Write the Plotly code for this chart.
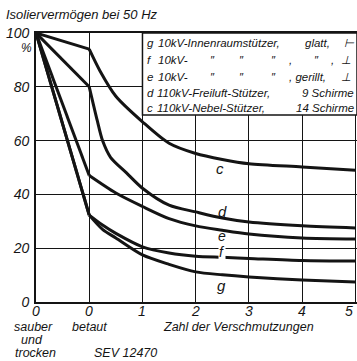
import plotly.graph_objects as go

# ---------------- data ----------------
x_tick_vals = [0, 1, 2, 3, 4, 5, 6]
x_tick_text = ["0", "0", "1", "2", "3", "4", "5"]
y_tick_vals = [0, 20, 40, 60, 80, 100]
y_tick_text = ["0", "20", "40", "60", "80", "100"]

c_x = [0, 1, 1.2, 1.5, 2, 2.5, 3, 3.5, 4, 5, 6]
c_y = [100, 94, 86, 76.5, 67, 59, 55.2, 53, 51.4, 50.2, 49]

d_x = [0, 1, 1.15, 1.25, 1.4, 1.7, 2, 2.5, 3, 3.5, 4, 5, 6]
d_y = [100, 80, 67.5, 60, 53.8, 48, 42.3, 36, 33.5, 31.2, 29.7, 28.3, 27.5]

e_x = [0, 1, 1.5, 2, 2.5, 3, 3.5, 4, 5, 6]
e_y = [100, 47, 40.5, 35.5, 31, 28.3, 26.7, 25.3, 23.8, 23.4]

f_x = [0, 1, 1.25, 1.5, 2, 2.5, 3, 3.5, 4, 5, 6]
f_y = [100, 32.3, 28.6, 25.5, 20.5, 18.2, 17, 16.6, 16.2, 15.4, 15.2]

g_x = [0, 1, 1.25, 1.5, 2, 2.5, 3, 3.5, 4, 5, 6]
g_y = [100, 32.3, 27, 23.8, 17.5, 14, 11.2, 10.1, 9.3, 8.2, 7.4]

curves = {"c": (c_x, c_y), "d": (d_x, d_y), "e": (e_x, e_y),
          "f": (f_x, f_y), "g": (g_x, g_y)}

# ---------------- layout helpers ----------------
W, H = 357, 361
L, R, T, B = 36, 0, 33, 59
XMAX = 6.03
FONT = "Liberation Sans, Arial, sans-serif"
INK = "#141414"


def pxx(xp):
    return (xp - L) / (W - L - R)


def pxy(yp):
    return (H - B - yp) / (H - T - B)


fig = go.Figure()

for name, (xs, ys) in curves.items():
    # straight segment: "sauber und trocken" -> "betaut"
    fig.add_trace(go.Scatter(x=xs[:2], y=ys[:2], mode="lines",
                             line=dict(color=INK, width=3), hoverinfo="skip",
                             showlegend=False, cliponaxis=False))
    # smooth decay after wetting
    fig.add_trace(go.Scatter(x=xs[1:], y=ys[1:], mode="lines",
                             line=dict(color=INK, width=3, shape="spline",
                                       smoothing=0.8),
                             hoverinfo="skip", showlegend=False))

ann = []


def txt(text, xp, yp, size=13, xanchor="left", bg=None):
    d = dict(text=text, x=pxx(xp), y=pxy(yp), xref="paper", yref="paper",
             xanchor=xanchor, yanchor="middle", showarrow=False,
             font=dict(family=FONT, size=size, color=INK, style="italic"))
    if bg:
        d["bgcolor"] = bg
        d["borderpad"] = 0
    ann.append(d)


# x tick labels (placed close under the axis like in the original)
for tv, tt in zip(x_tick_vals, x_tick_text):
    ann.append(dict(text=tt, x=tv, y=pxy(311), xref="x", yref="paper",
                    xanchor="right" if tv == x_tick_vals[-1] else "center",
                    yanchor="middle", showarrow=False,
                    font=dict(family=FONT, size=14, color=INK,
                              style="italic")))

# title and unit
txt("Isoliervermögen bei 50 Hz", 4, 14, size=13)
txt("%", 26, 48, size=12, xanchor="center")

# curve labels
txt("c", 220, 168, size=15, xanchor="center")
txt("d", 223, 211, size=15, xanchor="center")
txt("e", 222, 236, size=14, xanchor="center")
txt("f", 222, 252, size=14, xanchor="center", bg="white")
txt("g", 222, 285, size=15, xanchor="center")

# legend box text
LS = 11.5
DIT = "″"
rows_y = [43, 60, 77, 93, 108]
txt("g", 145, rows_y[0], LS)
txt("10kV-Innenraumstützer,", 156, rows_y[0], LS)
txt("glatt,", 303, rows_y[0], LS)
txt("⊢", 349, rows_y[0], LS, xanchor="center")

txt("f", 145, rows_y[1], LS)
txt("10kV-", 156, rows_y[1], LS)
for xp in (213, 241, 273, 316):
    txt(DIT, xp, rows_y[1], LS, xanchor="center")
txt(",", 290, rows_y[1], LS, xanchor="center")
txt(",", 332, rows_y[1], LS, xanchor="center")
txt("⊥", 346, rows_y[1], LS, xanchor="center")

txt("e", 145, rows_y[2], LS)
txt("10kV-", 156, rows_y[2], LS)
for xp in (213, 241, 273):
    txt(DIT, xp, rows_y[2], LS, xanchor="center")
txt(", gerillt,", 287, rows_y[2], LS)
txt("⊥", 346, rows_y[2], LS, xanchor="center")

txt("d", 145, rows_y[3], LS)
txt("110kV-Freiluft-Stützer,", 155, rows_y[3], LS)
txt("9 Schirme", 356, rows_y[3], LS, xanchor="right")

txt("c", 145, rows_y[4], LS)
txt("110kV-Nebel-Stützer,", 155, rows_y[4], LS)
txt("14 Schirme", 356, rows_y[4], LS, xanchor="right")

# bottom texts
txt("sauber", 33, 327, 12.5, xanchor="center")
txt("und", 32, 340, 12.5, xanchor="center")
txt("trocken", 35, 353, 12.5, xanchor="center")
txt("betaut", 89, 327, 12.5, xanchor="center")
txt("Zahl der Verschmutzungen", 238, 327, 12.5, xanchor="center")
txt("SEV 12470", 126, 353, 12.5, xanchor="center")

fig.update_layout(
    width=W, height=H,
    margin=dict(l=L, r=R, t=T, b=B, pad=0, autoexpand=False),
    paper_bgcolor="white", plot_bgcolor="white",
    showlegend=False,
    annotations=ann,
    shapes=[dict(type="rect", xref="x", yref="paper", x0=2, x1=XMAX,
                 y0=pxy(115), y1=1, fillcolor="white",
                 line=dict(color=INK, width=1.5), layer="above")],
    font=dict(family=FONT, color=INK, size=13, style="italic"),
)

fig.update_xaxes(range=[0, XMAX], tickvals=x_tick_vals,
                 showticklabels=False,
                 showgrid=True, gridcolor=INK, gridwidth=1.3, zeroline=False,
                 showline=True, linecolor=INK, linewidth=1.8, mirror=True,
                 ticks="", automargin=False, fixedrange=True)
fig.update_yaxes(range=[0, 100], tickvals=y_tick_vals, ticktext=y_tick_text,
                 showgrid=True, gridcolor=INK, gridwidth=1.3, zeroline=False,
                 showline=True, linecolor=INK, linewidth=1.8, mirror=True,
                 ticks="", ticklabelstandoff=2, automargin=False,
                 tickfont=dict(family=FONT, size=14, style="italic"),
                 fixedrange=True)

fig.write_html("out.html", config={"displayModeBar": False},
               post_script="document.body.style.margin='0px';"
                           "document.body.style.padding='0px';")
